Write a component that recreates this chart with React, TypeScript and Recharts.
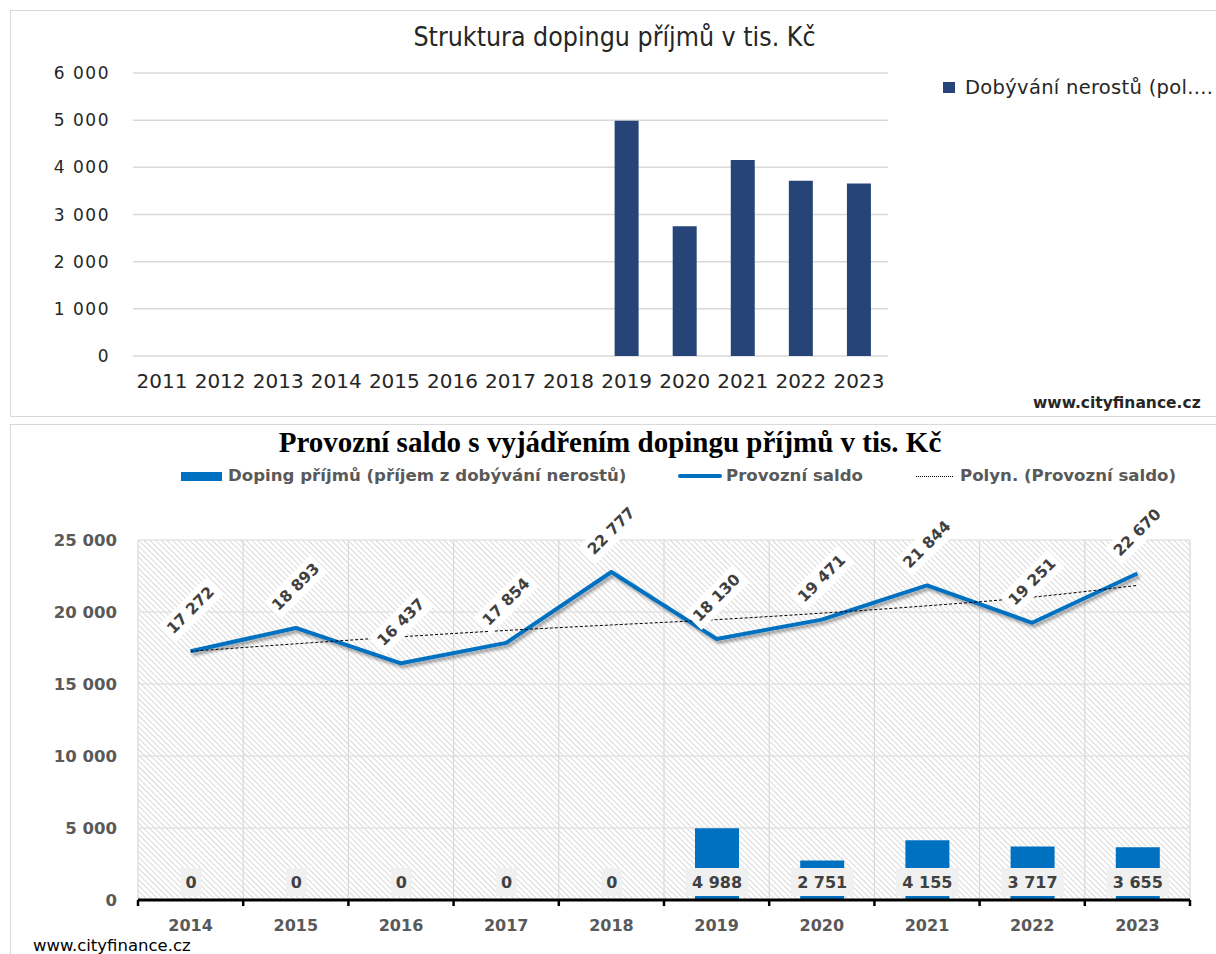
import React from 'react';
import { BarChart, Bar, XAxis, YAxis, CartesianGrid, ComposedChart, Line, LabelList, ReferenceLine } from 'recharts';

const topYears = ['2011', '2012', '2013', '2014', '2015', '2016', '2017', '2018', '2019', '2020', '2021', '2022', '2023'];
const topValues = [0, 0, 0, 0, 0, 0, 0, 0, 4988, 2751, 4155, 3717, 3655];
const topTicks = [0, 1000, 2000, 3000, 4000, 5000, 6000];

const years = ['2014', '2015', '2016', '2017', '2018', '2019', '2020', '2021', '2022', '2023'];
const doping = [0, 0, 0, 0, 0, 4988, 2751, 4155, 3717, 3655];
const saldo = [17272, 18893, 16437, 17854, 22777, 18130, 19471, 21844, 19251, 22670];
const trend = [17270, 17790, 18280, 18720, 19100, 19470, 19920, 20430, 21030, 21850];
const bottomTicks = [0, 5000, 10000, 15000, 20000, 25000];
const Y_MAX = 25000;
const TICK_DEPTH = -420; // value below 0 where the axis tick marks end

const topData = topYears.map((y, i) => ({ year: y, value: topValues[i] }));
const bottomData = years.map((y, i) => ({ year: y, doping: doping[i], saldo: saldo[i], trend: trend[i] }));

// band boundaries: start of every category plus end of the last one
const boundaries: { year: string; pos: 'start' | 'end' }[] = [
  ...years.map((y) => ({ year: y, pos: 'start' as const })),
  { year: years[years.length - 1], pos: 'end' as const },
];

const fmt = (v: number) => String(v).replace(/\B(?=(\d{3})+(?!\d))/g, ' ');

const BarLabel = (props: any) => {
  const vb = props.viewBox || props;
  const x = Number(vb.x), y = Number(vb.y), w = Number(vb.width), h = Number(vb.height);
  const base = Math.max(y, y + h);
  const txt = fmt(Number(props.value));
  const bw = txt.length * 10.5 + 10;
  const cx = x + w / 2;
  return (
    <g>
      <rect x={cx - bw / 2} y={base - 32} width={bw} height={28} fill="#f0f0f0" />
      <text x={cx} y={base - 18} textAnchor="middle" dominantBaseline="central" fontSize={16} fontWeight={700} fill="#404040">{txt}</text>
    </g>
  );
};

const LineLabel = (props: any) => {
  const vb = props.viewBox || props;
  const x = Number(vb.x), y = Number(vb.y);
  const txt = fmt(Number(props.value));
  const bw = txt.length * 9.5 + 10;
  return (
    <g transform={`translate(${x},${y - 41}) rotate(-45)`}>
      <rect x={-bw / 2} y={-12} width={bw} height={24} fill="#ffffff" />
      <text x={0} y={0} textAnchor="middle" dominantBaseline="central" fontSize={15.5} fontWeight={700} fill="#404040">{txt}</text>
    </g>
  );
};

export default function App() {
  return (
    <div style={{ position: 'absolute', left: 0, top: 0, width: 1216, height: 954, overflow: 'hidden', background: '#fff', fontFamily: '"DejaVu Sans", sans-serif' }}>
      {/* top panel */}
      <div style={{ position: 'absolute', left: 10, top: 10, width: 1220, height: 407, border: '1.5px solid #d9d9d9', boxSizing: 'border-box' }} />
      <div style={{ position: 'absolute', left: 0, top: 20, width: 1229, textAlign: 'center', fontFamily: '"Liberation Sans Narrow", "DejaVu Sans Condensed", "Open Sans", sans-serif', fontSize: 26.5, color: '#262626', lineHeight: '34px' }}>
        Struktura dopingu příjmů v tis. Kč
      </div>
      <div style={{ position: 'absolute', left: 0, top: 0 }}>
        <BarChart width={1216} height={420} data={topData} margin={{ top: 73, right: 328, bottom: 63, left: 0 }}>
          <CartesianGrid vertical={false} stroke="#d9d9d9" strokeWidth={1.5} />
          <XAxis dataKey="year" axisLine={false} tickLine={false} tickSize={0} tickMargin={18} height={1} interval={0}
            tick={{ fill: '#262626', fontSize: 20 }} />
          <YAxis domain={[0, 6000]} ticks={topTicks} axisLine={false} tickLine={false} tickSize={0} tickMargin={23} width={133}
            tickFormatter={fmt} tick={{ fill: '#262626', fontSize: 17, letterSpacing: 1.5 }} />
          <Bar dataKey="value" fill="#264478" barSize={24} isAnimationActive={false} />
        </BarChart>
      </div>
      <div style={{ position: 'absolute', left: 943, top: 82, width: 12, height: 11, background: '#264478' }} />
      <div style={{ position: 'absolute', left: 965, top: 76, whiteSpace: 'nowrap', fontSize: 19.5, letterSpacing: 0.3, color: '#262626', lineHeight: '24px' }}>
        Dobývání nerostů (pol....
      </div>
      <div style={{ position: 'absolute', left: 1033, top: 393, whiteSpace: 'nowrap', fontSize: 15.5, fontWeight: 700, color: '#262626', lineHeight: '20px' }}>
        www.cityfinance.cz
      </div>

      {/* bottom panel */}
      <div style={{ position: 'absolute', left: 10, top: 424, width: 1220, height: 560, border: '1.5px solid #d9d9d9', boxSizing: 'border-box' }} />
      <div style={{ position: 'absolute', left: 0, top: 424, width: 1220, textAlign: 'center', fontFamily: '"Liberation Serif", serif', fontWeight: 700, fontSize: 29, color: '#000', lineHeight: '36px' }}>
        Provozní saldo s vyjádřením dopingu příjmů v tis. Kč
      </div>
      <div style={{ position: 'absolute', left: 181, top: 472, width: 41, height: 9, background: '#0070C0' }} />
      <div style={{ position: 'absolute', left: 228, top: 465, whiteSpace: 'nowrap', fontSize: 16.6, fontWeight: 700, color: '#595959', lineHeight: '22px' }}>
        Doping příjmů (příjem z dobývání nerostů)
      </div>
      <div style={{ position: 'absolute', left: 678, top: 474, width: 44, height: 4, background: '#0070C0', borderRadius: 2 }} />
      <div style={{ position: 'absolute', left: 726, top: 465, whiteSpace: 'nowrap', fontSize: 16.6, fontWeight: 700, color: '#595959', lineHeight: '22px' }}>
        Provozní saldo
      </div>
      <div style={{ position: 'absolute', left: 916, top: 476, width: 37, height: 0, borderTop: '1px dotted #000' }} />
      <div style={{ position: 'absolute', left: 960, top: 465, whiteSpace: 'nowrap', fontSize: 16.6, fontWeight: 700, color: '#595959', lineHeight: '22px' }}>
        Polyn. (Provozní saldo)
      </div>
      <div style={{ position: 'absolute', left: 0, top: 425 }}>
        <ComposedChart width={1216} height={529} data={bottomData} margin={{ top: 115, right: 26, bottom: 53, left: 0 }}>
          <defs>
            <pattern id="hatch" width="4" height="4" patternUnits="userSpaceOnUse" patternTransform="rotate(-45)">
              <rect width="4" height="4" fill="#ffffff" />
              <line x1="0" y1="0" x2="0" y2="4" stroke="#d0d0d0" strokeWidth="1.6" />
            </pattern>
            <filter id="lshadow" x="-5%" y="-20%" width="110%" height="160%">
              <feDropShadow dx="2" dy="3" stdDeviation="1.5" floodColor="#000" floodOpacity="0.35" />
            </filter>
          </defs>
          <CartesianGrid vertical={false} fill="url(#hatch)" stroke="#d9d9d9" strokeWidth={1.2} />
          <XAxis dataKey="year" axisLine={{ stroke: '#000', strokeWidth: 3 }} tickLine={false} tickSize={0} tickMargin={20} height={1} interval={0}
            tick={{ fill: '#595959', fontSize: 16, fontWeight: 700 }} />
          <YAxis domain={[0, Y_MAX]} ticks={bottomTicks} axisLine={false} tickLine={false} tickSize={0} tickMargin={21} width={138}
            tickFormatter={fmt} tick={{ fill: '#595959', fontSize: 16.5, fontWeight: 700 }} />
          {boundaries.map((b, i) => (
            <ReferenceLine key={`g${i}`} segment={[{ x: b.year, y: 0 }, { x: b.year, y: Y_MAX }]} position={b.pos}
              stroke="#d9d9d9" strokeWidth={1.2} ifOverflow="visible" />
          ))}
          <Bar dataKey="doping" fill="#0070C0" barSize={44} minPointSize={1} isAnimationActive={false}>
            <LabelList dataKey="doping" content={BarLabel} />
          </Bar>
          <Line dataKey="saldo" stroke="#0070C0" strokeWidth={4} dot={false} isAnimationActive={false} filter="url(#lshadow)" strokeLinejoin="round">
            <LabelList dataKey="saldo" content={LineLabel} />
          </Line>
          <Line dataKey="trend" type="monotone" stroke="#000" strokeWidth={1} strokeDasharray="3 2" dot={false} isAnimationActive={false} />
          {boundaries.map((b, i) => (
            <ReferenceLine key={`t${i}`} segment={[{ x: b.year, y: 0 }, { x: b.year, y: TICK_DEPTH }]} position={b.pos}
              stroke="#000" strokeWidth={2.5} ifOverflow="visible" />
          ))}
        </ComposedChart>
      </div>
      <div style={{ position: 'absolute', left: 33, top: 935, whiteSpace: 'nowrap', fontSize: 16.5, color: '#000', lineHeight: '22px' }}>
        www.cityfinance.cz
      </div>
    </div>
  );
}
